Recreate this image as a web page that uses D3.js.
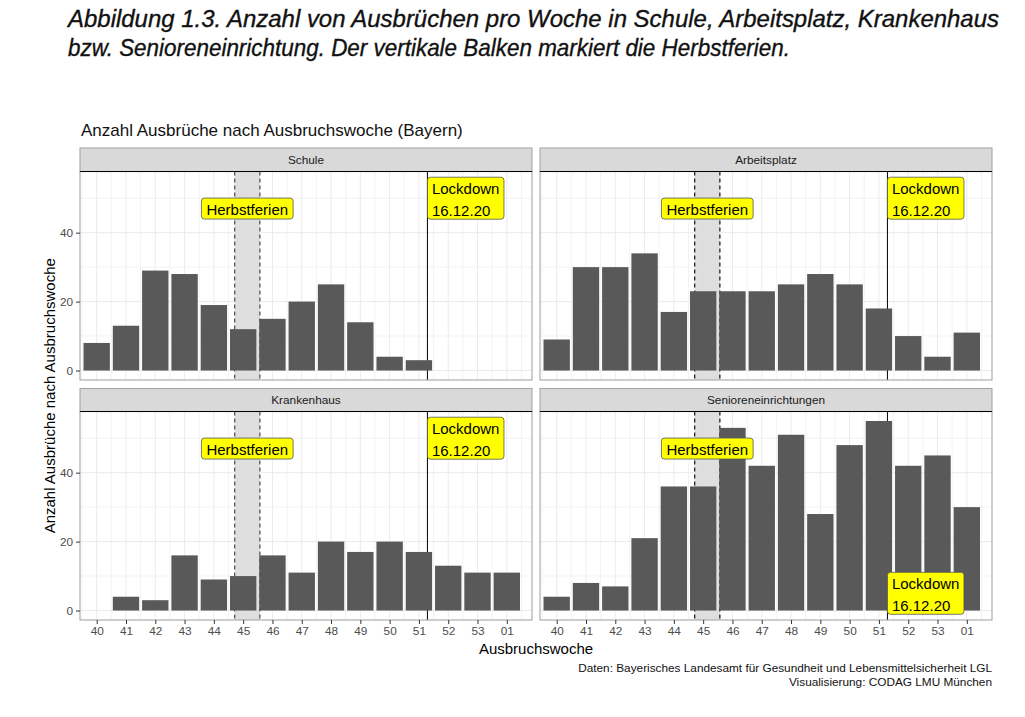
<!DOCTYPE html>
<html>
<head>
<meta charset="utf-8">
<title>Ausbrüche pro Woche</title>
<script src="https://d3js.org/d3.v7.min.js"></script>
<style>
  body { margin: 0; background: #fff; }
  svg { font-family: "Liberation Sans", Arial, sans-serif; }
  .grid line { stroke: #ebebeb; }
  .tick-label { fill: #4d4d4d; font-size: 11.8px; }
</style>
</head>
<body>
<svg width="1025" height="717"></svg>
<script>
const weeks = ["40", "41", "42", "43", "44", "45", "46", "47", "48", "49", "50", "51", "52", "53", "01"];
const panelNames = ["Schule", "Arbeitsplatz", "Krankenhaus", "Senioreneinrichtungen"];

const schule       = [8, 13, 29, 28, 19, 12, 15, 20, 25, 14, 4, 3, null, null, null];
const arbeitsplatz = [9, 30, 30, 34, 17, 23, 23, 23, 25, 28, 25, 18, 10, 4, 11];
const krankenhaus  = [null, 4, 3, 16, 9, 10, 16, 11, 20, 17, 20, 17, 13, 11, 11];
const senioren     = [4, 8, 7, 21, 36, 36, 53, 42, 51, 28, 48, 55, 42, 45, 30];
const series = [schule, arbeitsplatz, krankenhaus, senioren];

// position on the week axis (index of week 40 = 0)
const ferien = [4.71, 5.57];   // 31.10. – 06.11.2020
const lockdown = 11.29;        // 16.12.2020
const lockdownLabelY = [50, 50, 50, 5];
const ferienLabelY = 47;
const yTicks = [0, 20, 40];

const svg = d3.select("svg");

// title (narrow italic look: squeeze glyphs into the measured widths)
const titleFont = "'Liberation Sans Narrow', 'Arial Narrow', 'Liberation Sans', sans-serif";
svg.append("text")
  .attr("x", 68).attr("y", 27)
  .attr("textLength", 931).attr("lengthAdjust", "spacingAndGlyphs")
  .style("font-family", titleFont)
  .style("font-style", "italic").style("font-size", "24px").attr("fill", "#111")
  .attr("stroke", "#111").attr("stroke-width", 0.35)
  .text("Abbildung 1.3. Anzahl von Ausbrüchen pro Woche in Schule, Arbeitsplatz, Krankenhaus");
svg.append("text")
  .attr("x", 68).attr("y", 56)
  .attr("textLength", 722).attr("lengthAdjust", "spacingAndGlyphs")
  .style("font-family", titleFont)
  .style("font-style", "italic").style("font-size", "24px").attr("fill", "#111")
  .attr("stroke", "#111").attr("stroke-width", 0.35)
  .text("bzw. Senioreneinrichtung. Der vertikale Balken markiert die Herbstferien.");

svg.append("text")
  .attr("x", 81).attr("y", 136)
  .style("font-size", "17px").attr("fill", "#111")
  .text("Anzahl Ausbrüche nach Ausbruchswoche (Bayern)");

const cols = [[80, 532], [540, 992]];
const rows = [{ strip: 148, top: 171.5, bottom: 380 }, { strip: 388.5, top: 411.5, bottom: 620 }];

const yMax = d3.max(series.flat());
const yPad = yMax * 0.05;

panelNames.forEach((name, p) => {
  const c = cols[p % 2], r = rows[Math.floor(p / 2)];
  const x = d3.scaleLinear().domain([-0.57, weeks.length - 1 + 0.86]).range(c);
  const y = d3.scaleLinear().domain([-yPad, yMax + yPad]).range([r.bottom, r.top]);
  const step = x(1) - x(0);
  const g = svg.append("g");

  // grid
  const grid = g.append("g").attr("class", "grid");
  grid.selectAll(".hmin").data([10, 30, 50]).join("line")
    .attr("x1", c[0]).attr("x2", c[1]).attr("y1", d => y(d)).attr("y2", d => y(d))
    .attr("stroke-width", 0.6);
  grid.selectAll(".hmaj").data(yTicks).join("line")
    .attr("x1", c[0]).attr("x2", c[1]).attr("y1", d => y(d)).attr("y2", d => y(d))
    .attr("stroke-width", 1);
  grid.selectAll(".vmin").data(d3.range(-0.5, weeks.length, 1)).join("line")
    .attr("x1", d => x(d)).attr("x2", d => x(d)).attr("y1", r.top).attr("y2", r.bottom)
    .attr("stroke-width", 0.6);
  grid.selectAll(".vmaj").data(weeks.map((w, i) => i)).join("line")
    .attr("x1", d => x(d)).attr("x2", d => x(d)).attr("y1", r.top).attr("y2", r.bottom)
    .attr("stroke-width", 1);

  // Herbstferien band
  g.append("rect")
    .attr("x", x(ferien[0])).attr("width", x(ferien[1]) - x(ferien[0]))
    .attr("y", r.top).attr("height", r.bottom - r.top)
    .attr("fill", "#d9d9d9").attr("opacity", 0.85);
  g.selectAll(".fl").data(ferien).join("line")
    .attr("x1", d => x(d)).attr("x2", d => x(d)).attr("y1", r.top).attr("y2", r.bottom)
    .attr("stroke", p % 2 ? "#222" : "#555").attr("stroke-width", 1.3)
    .attr("stroke-dasharray", "4,3");
  g.append("line")
    .attr("x1", x(lockdown)).attr("x2", x(lockdown)).attr("y1", r.top).attr("y2", r.bottom)
    .attr("stroke", "#000").attr("stroke-width", 1);

  // bars
  const vals = series[p].map((v, i) => ({ i, v })).filter(d => d.v != null);
  g.selectAll(".bar").data(vals).join("rect")
    .attr("x", d => x(d.i - 0.45)).attr("width", step * 0.9)
    .attr("y", d => y(d.v)).attr("height", d => y(0) - y(d.v))
    .attr("fill", "#595959");

  // labels
  const fx = x((ferien[0] + ferien[1]) / 2), fy = y(ferienLabelY);
  const ft = g.append("text").attr("x", fx).attr("y", fy + 6)
    .attr("text-anchor", "middle").style("font-size", "15px").attr("fill", "#000")
    .text("Herbstferien");
  const fw = ft.node().getComputedTextLength() + 10;
  g.insert("rect", () => ft.node())
    .attr("x", fx - fw / 2).attr("y", fy - 10.5).attr("width", fw).attr("height", 21)
    .attr("rx", 3).attr("fill", "#ffff00").attr("stroke", "#555").attr("stroke-width", 0.8);

  const lx = x(lockdown), ly = y(lockdownLabelY[p]) - 21;
  const lt = g.append("text").style("font-size", "15px").attr("fill", "#000");
  lt.append("tspan").attr("x", lx + 4.5).attr("y", ly + 16.5).text("Lockdown");
  lt.append("tspan").attr("x", lx + 4.5).attr("y", ly + 38.5).text("16.12.20");
  const lw = lt.node().getBBox().width + 9;
  g.insert("rect", () => lt.node())
    .attr("x", lx).attr("y", ly).attr("width", lw).attr("height", 42)
    .attr("rx", 3).attr("fill", "#ffff00").attr("stroke", "#555").attr("stroke-width", 0.8);

  // panel border
  g.append("rect")
    .attr("x", c[0]).attr("y", r.top).attr("width", c[1] - c[0]).attr("height", r.bottom - r.top)
    .attr("fill", "none").attr("stroke", "#a6a6a6").attr("stroke-width", 1.1);

  // strip
  g.append("rect")
    .attr("x", c[0]).attr("y", r.strip).attr("width", c[1] - c[0]).attr("height", r.top - r.strip)
    .attr("fill", "#d9d9d9").attr("stroke", "#a6a6a6").attr("stroke-width", 1.1);
  g.append("line")
    .attr("x1", c[0]).attr("x2", c[1]).attr("y1", r.top).attr("y2", r.top)
    .attr("stroke", "#000").attr("stroke-width", 1.2);
  g.append("text")
    .attr("x", (c[0] + c[1]) / 2).attr("y", (r.strip + r.top) / 2 + 4)
    .attr("text-anchor", "middle").style("font-size", "11.8px").attr("fill", "#1a1a1a")
    .text(name);

  // axes
  if (p % 2 === 0) {
    const ya = g.append("g").attr("transform", `translate(${c[0]},0)`)
      .call(d3.axisLeft(y).tickValues(yTicks).tickSize(4).tickPadding(3));
    ya.select(".domain").remove();
    ya.selectAll("line").attr("stroke", "#333");
    ya.selectAll("text").attr("class", "tick-label");
  }
  if (p >= 2) {
    const xa = g.append("g").attr("transform", `translate(0,${r.bottom})`)
      .call(d3.axisBottom(x).tickValues(d3.range(weeks.length))
        .tickFormat(i => weeks[i]).tickSize(4).tickPadding(3));
    xa.select(".domain").remove();
    xa.selectAll("line").attr("stroke", "#333");
    xa.selectAll("text").attr("class", "tick-label");
  }
});

svg.selectAll("g").attr("font-family", null).attr("font-size", null);

// axis titles
svg.append("text")
  .attr("transform", `translate(55,${(rows[0].top + rows[1].bottom) / 2}) rotate(-90)`)
  .attr("text-anchor", "middle").style("font-size", "15px").attr("fill", "#000")
  .text("Anzahl Ausbrüche nach Ausbruchswoche");
svg.append("text")
  .attr("x", (cols[0][0] + cols[1][1]) / 2).attr("y", 654)
  .attr("text-anchor", "middle").style("font-size", "15px").attr("fill", "#000")
  .text("Ausbruchswoche");

// caption
svg.append("text")
  .attr("x", 992).attr("y", 672).attr("text-anchor", "end")
  .style("font-size", "11.8px").attr("fill", "#111")
  .text("Daten: Bayerisches Landesamt für Gesundheit und Lebensmittelsicherheit LGL");
svg.append("text")
  .attr("x", 992).attr("y", 685.5).attr("text-anchor", "end")
  .style("font-size", "11.8px").attr("fill", "#111")
  .text("Visualisierung: CODAG LMU München");
</script>
</body>
</html>
